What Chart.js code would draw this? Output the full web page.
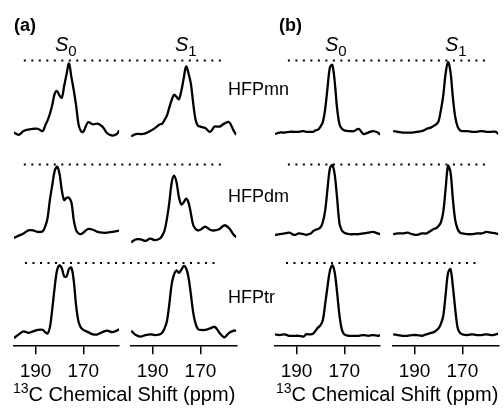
<!DOCTYPE html>
<html>
<head>
<meta charset="utf-8">
<script src="https://cdn.jsdelivr.net/npm/chart.js@4.4.1/dist/chart.umd.min.js"></script>
<style>
  body { margin: 0; background: #fff; }
  #wrap { position: relative; width: 504px; height: 410px; font-family: Arial, "Liberation Sans", sans-serif; color: #000; }
  #nmr { position: absolute; left: 0; top: 0; }
  .lbl { position: absolute; white-space: nowrap; line-height: 1; font-size: 18px; }
  .lbl sub { font-size: 15px; vertical-align: -5px; font-style: normal; }
  .lbl sup { font-size: 14px; vertical-align: 8px; }
  .bold { font-weight: bold; }
  .sym { font-size: 20px; }
  .title { font-size: 20px; }
</style>
</head>
<body>
<div id="wrap">
  <canvas id="nmr" width="504" height="410" style="width:504px;height:410px"></canvas>
  <div class="lbl bold" style="left:14px;top:16px">(a)</div>
  <div class="lbl bold" style="left:279px;top:16px">(b)</div>
  <div class="lbl sym" style="left:55px;top:34px"><i>S</i><sub>0</sub></div>
  <div class="lbl sym" style="left:175px;top:34px"><i>S</i><sub>1</sub></div>
  <div class="lbl sym" style="left:325px;top:34px"><i>S</i><sub>0</sub></div>
  <div class="lbl sym" style="left:445px;top:34px"><i>S</i><sub>1</sub></div>
  <div class="lbl" style="left:228px;top:80px">HFPmn</div>
  <div class="lbl" style="left:228px;top:187px">HFPdm</div>
  <div class="lbl" style="left:228px;top:288px">HFPtr</div>
  <div class="lbl title" style="left:13px;top:381px"><sup>13</sup>C Chemical Shift (ppm)</div>
  <div class="lbl title" style="left:276px;top:381px"><sup>13</sup>C Chemical Shift (ppm)</div>
</div>
<script>
// Data //

// chemical shift grid shared by every trace, finer through the carbonyl region
const ppm = [199,197,195,193,191,189,187,186,185,184,183,182,181,180,179,178,177,176,175,174,173,172,171,170,168,166,164,162,160,158,156,155];
const tickValues = [190, 170];

// panel (a) intensities (dotted reference line = 101)
const aMnS0 = [4,1,6,8,9,9,6,13,20,29,41,56,60,54,51,67,83,97,79,61,40,15,6,5,18,15,16,12,3,0,2,7];
const aMnS1 = [-1,2,2,3,6,10,15,16,21,27,38,48,55,52,49,60,77,93,84,70,43,21,13,12,10,5,12,12,16,18,6,1];
const aDmS0 = [2,5,8,12,12,10,11,17,28,53,73,92,98,89,66,53,56,56,50,26,12,8,7,9,14,13,10,9,9,10,11,12];
const aDmS1 = [-4,0,0,-2,1,-1,1,5,12,28,50,77,86,77,57,47,50,55,50,35,19,14,12,13,17,13,12,14,19,15,6,3];
const aTrS0 = [0,5,9,7,9,11,11,8,6,14,39,68,91,98,94,83,83,93,95,77,43,22,14,11,8,5,5,8,10,8,10,12];
const aTrS1 = [10,4,2,4,5,4,5,7,13,23,46,73,86,91,88,92,97,94,82,59,34,19,12,11,11,13,15,7,1,7,10,10];

// panel (b) intensities
const bMnS0 = [2,4,4,5,5,5,6,5,5,5,5,7,8,12,18,36,65,92,95,72,36,15,9,7,6,6,9,2,4,6,4,1];
const bMnS1 = [6,5,4,4,4,5,6,7,9,10,11,13,15,19,34,54,84,99,86,52,25,12,7,6,6,5,5,6,5,5,5,2];
const bDmS0 = [6,7,8,9,6,8,7,6,7,8,11,13,14,16,23,39,69,96,100,87,55,21,12,9,7,7,7,8,9,10,8,7];
const bDmS1 = [7,8,8,9,7,6,8,8,8,10,12,14,15,18,23,37,69,99,91,55,26,14,9,8,7,7,8,8,10,9,8,7];
const bTrS0 = [5,4,5,3,3,3,2,5,5,5,6,10,14,17,24,46,70,91,98,88,61,30,11,5,3,3,3,4,3,4,3,4];
const bTrS1 = [5,4,3,3,4,4,3,4,5,6,7,8,10,13,19,30,59,88,93,70,39,14,7,5,4,5,4,4,5,4,5,6];

// dotted reference lines: start / end in ppm of the S0 axis (they run on across S1)
const dotLevel = 101;
const dotA = [[194.9, 110.6], [194.9, 110.6], [194.4, 113.1]];
const dotB = [[193.6, 109.0], [193.6, 109.0], [194.4, 113.5]];

// vertical stacking of the rows: mn, dm, tr
const rowOffset = [273, 133, 0];

// Build chart //

const traces = [
  { axis: 'aS0', rows: [aMnS0, aDmS0, aTrS0] },
  { axis: 'aS1', rows: [aMnS1, aDmS1, aTrS1] },
  { axis: 'bS0', rows: [bMnS0, bDmS0, bTrS0] },
  { axis: 'bS1', rows: [bMnS1, bDmS1, bTrS1] }
];

const datasets = [];
traces.forEach(t => {
  t.rows.forEach((vals, r) => {
    datasets.push({
      data: ppm.map((x, i) => ({ x: x, y: vals[i] + rowOffset[r] })),
      xAxisID: t.axis,
      yAxisID: 'y',
      borderColor: '#000',
      borderWidth: 2.3,
      pointRadius: 0,
      tension: 0.35,
      fill: false
    });
  });
});

[['aS0', dotA], ['bS0', dotB]].forEach(([axis, ends]) => {
  ends.forEach((e, r) => {
    datasets.push({
      data: [{ x: e[0], y: dotLevel + rowOffset[r] }, { x: e[1], y: dotLevel + rowOffset[r] }],
      xAxisID: axis,
      yAxisID: 'y',
      borderColor: '#000',
      borderWidth: 2,
      borderDash: [2, 5.5],
      pointRadius: 0,
      clip: false,
      fill: false
    });
  });
});

function ppmAxis(weight) {
  return {
    type: 'linear',
    position: 'bottom',
    stack: 'ppm',
    stackWeight: weight,
    min: 155,
    max: 199,
    reverse: true,
    afterBuildTicks: scale => { scale.ticks = tickValues.map(v => ({ value: v })); },
    grid: { display: true, drawOnChartArea: false, drawTicks: true, tickLength: 8, color: '#000', lineWidth: 1.5 },
    border: { display: true, color: '#000', width: 1.5 },
    ticks: { color: '#000', font: { size: 19, family: 'Arial, "Liberation Sans", sans-serif' }, padding: 6, maxRotation: 0, autoSkip: false }
  };
}

function gapAxis(weight) {
  return {
    type: 'linear',
    position: 'bottom',
    stack: 'ppm',
    stackWeight: weight,
    grid: { display: false },
    border: { display: false },
    ticks: { display: false }
  };
}

const ctx = document.querySelector('#nmr').getContext('2d');
const nmrChart = new Chart(ctx, {
  type: 'line',
  data: { datasets: datasets },
  options: {
    responsive: false,
    animation: false,
    layout: { padding: { left: 14, right: 2, top: 45, bottom: 21 } },
    plugins: { legend: { display: false }, tooltip: { enabled: false }, title: { display: false } },
    scales: {
      aS0: ppmAxis(106),
      g1: gapAxis(12),
      aS1: ppmAxis(106),
      g2: gapAxis(39),
      bS0: ppmAxis(106),
      g3: gapAxis(13),
      bS1: ppmAxis(106),
      y: { type: 'linear', display: false, min: -11, max: 395 }
    }
  }
});
</script>
</body>
</html>
